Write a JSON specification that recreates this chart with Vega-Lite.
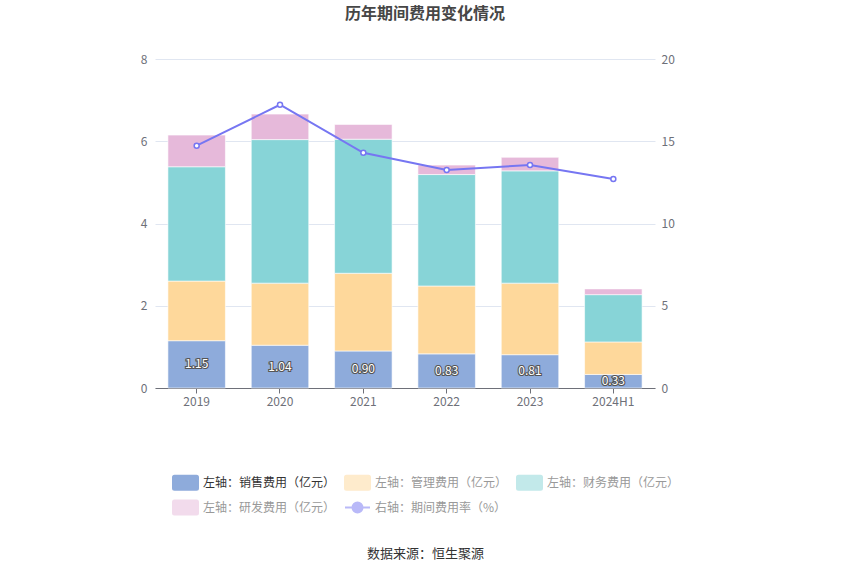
{
  "$schema": "https://vega.github.io/schema/vega-lite/v6.json",
  "width": 500,
  "height": 329,
  "autosize": "none",
  "padding": {"left": 155, "top": 59, "right": 195, "bottom": 187},
  "background": "white",
  "config": {
    "font": "Noto Sans CJK SC",
    "view": {"stroke": null},
    "axis": {
      "labelFont": "Noto Sans CJK SC",
      "titleFont": "Noto Sans CJK SC",
      "labelFontSize": 12,
      "labelColor": "#6e7079"
    },
    "legend": {
      "labelFont": "Noto Sans CJK SC",
      "labelFontSize": 12
    }
  },
  "title": {
    "text": "历年期间费用变化情况",
    "fontSize": 16,
    "fontWeight": "bold",
    "color": "#464646",
    "anchor": "middle",
    "dx": 20,
    "offset": 31
  },
  "datasets": {
    "costs": [
      {"year": "2019", "type": "左轴：销售费用（亿元）", "idx": 1, "value": 1.15},
      {"year": "2019", "type": "左轴：管理费用（亿元）", "idx": 2, "value": 1.45},
      {"year": "2019", "type": "左轴：财务费用（亿元）", "idx": 3, "value": 2.78},
      {"year": "2019", "type": "左轴：研发费用（亿元）", "idx": 4, "value": 0.77},
      {"year": "2020", "type": "左轴：销售费用（亿元）", "idx": 1, "value": 1.04},
      {"year": "2020", "type": "左轴：管理费用（亿元）", "idx": 2, "value": 1.51},
      {"year": "2020", "type": "左轴：财务费用（亿元）", "idx": 3, "value": 3.49},
      {"year": "2020", "type": "左轴：研发费用（亿元）", "idx": 4, "value": 0.62},
      {"year": "2021", "type": "左轴：销售费用（亿元）", "idx": 1, "value": 0.90},
      {"year": "2021", "type": "左轴：管理费用（亿元）", "idx": 2, "value": 1.89},
      {"year": "2021", "type": "左轴：财务费用（亿元）", "idx": 3, "value": 3.26},
      {"year": "2021", "type": "左轴：研发费用（亿元）", "idx": 4, "value": 0.36},
      {"year": "2022", "type": "左轴：销售费用（亿元）", "idx": 1, "value": 0.83},
      {"year": "2022", "type": "左轴：管理费用（亿元）", "idx": 2, "value": 1.65},
      {"year": "2022", "type": "左轴：财务费用（亿元）", "idx": 3, "value": 2.71},
      {"year": "2022", "type": "左轴：研发费用（亿元）", "idx": 4, "value": 0.23},
      {"year": "2023", "type": "左轴：销售费用（亿元）", "idx": 1, "value": 0.81},
      {"year": "2023", "type": "左轴：管理费用（亿元）", "idx": 2, "value": 1.74},
      {"year": "2023", "type": "左轴：财务费用（亿元）", "idx": 3, "value": 2.73},
      {"year": "2023", "type": "左轴：研发费用（亿元）", "idx": 4, "value": 0.33},
      {"year": "2024H1", "type": "左轴：销售费用（亿元）", "idx": 1, "value": 0.33},
      {"year": "2024H1", "type": "左轴：管理费用（亿元）", "idx": 2, "value": 0.79},
      {"year": "2024H1", "type": "左轴：财务费用（亿元）", "idx": 3, "value": 1.15},
      {"year": "2024H1", "type": "左轴：研发费用（亿元）", "idx": 4, "value": 0.14}
    ],
    "rate": [
      {"year": "2019", "type": "右轴：期间费用率（%）", "rate": 14.73},
      {"year": "2020", "type": "右轴：期间费用率（%）", "rate": 17.22},
      {"year": "2021", "type": "右轴：期间费用率（%）", "rate": 14.30},
      {"year": "2022", "type": "右轴：期间费用率（%）", "rate": 13.25},
      {"year": "2023", "type": "右轴：期间费用率（%）", "rate": 13.56},
      {"year": "2024H1", "type": "右轴：期间费用率（%）", "rate": 12.71}
    ]
  },
  "encoding": {
    "x": {
      "field": "year",
      "type": "ordinal",
      "sort": ["2019", "2020", "2021", "2022", "2023", "2024H1"],
      "scale": {"paddingInner": 0.31, "paddingOuter": 0.155},
      "axis": {
        "labelAngle": 0,
        "labelPadding": 3,
        "domainColor": "#6e7079",
        "tickColor": "#6e7079",
        "tickSize": 5,
        "title": "数据来源：恒生聚源",
        "titleFontSize": 13,
        "titleFontWeight": "normal",
        "titleColor": "#333333",
        "titlePadding": 140,
        "titleX": 270,
        "titleAlign": "center"
      }
    }
  },
  "layer": [
    {
      "data": {"name": "costs"},
      "mark": {"type": "bar", "stroke": "#ffffff", "strokeWidth": 0.6},
      "encoding": {
        "y": {
          "field": "value",
          "type": "quantitative",
          "stack": "zero",
          "scale": {"domain": [0, 8], "nice": false},
          "axis": {
            "orient": "left",
            "values": [0, 2, 4, 6, 8],
            "title": null,
            "domain": false,
            "ticks": false,
            "labelPadding": 8,
            "gridColor": "#e0e6f1"
          }
        },
        "order": {"field": "idx", "type": "quantitative"},
        "color": {
          "field": "type",
          "type": "nominal",
          "scale": {
            "domain": ["左轴：销售费用（亿元）", "左轴：管理费用（亿元）", "左轴：财务费用（亿元）", "左轴：研发费用（亿元）", "右轴：期间费用率（%）"],
            "range": ["#8eabdb", "#fed89b", "#87d4d7", "#e6b9da", "#7676f2"]
          },
          "legend": {
            "orient": "none",
            "legendX": 17,
            "legendY": 410,
            "direction": "horizontal",
            "columns": 3,
            "title": null,
            "symbolSize": 625,
            "columnPadding": 5,
            "rowPadding": -8,
            "labelColor": "#999999",
            "encode": {
              "symbols": {
                "update": {
                  "shape": {"signal": "datum.value === '右轴：期间费用率（%）' ? 'M-1,0H-0.4M0.4,0H1M0.4,0A0.4,0.4,0,1,1,-0.4,0A0.4,0.4,0,1,1,0.4,0' : 'M-0.88,-0.56H0.88A0.12,0.12,0,0,1,1,-0.44V0.44A0.12,0.12,0,0,1,0.88,0.56H-0.88A0.12,0.12,0,0,1,-1,0.44V-0.44A0.12,0.12,0,0,1,-0.88,-0.56Z'"},
                  "fill": {"signal": "datum.value === '右轴：期间费用率（%）' ? '#ffffff' : scale('color', datum.value)"},
                  "stroke": {"signal": "datum.value === '右轴：期间费用率（%）' ? '#7676f2' : 'transparent'"},
                  "strokeWidth": {"value": 2},
                  "opacity": {"signal": "datum.value === '左轴：销售费用（亿元）' ? 1 : 0.5"}
                }
              },
              "labels": {
                "update": {
                  "fill": {"signal": "datum.value === '左轴：销售费用（亿元）' ? '#333333' : '#999999'"}
                }
              }
            }
          }
        }
      }
    },
    {
      "data": {"name": "costs"},
      "transform": [{"filter": "datum.idx === 1"}],
      "mark": {"type": "text", "fontSize": 12, "fill": "#555555", "stroke": "#555555", "strokeWidth": 2.2},
      "encoding": {
        "y": {"field": "value", "type": "quantitative", "scale": {"domain": [0, 16], "nice": false}, "axis": null},
        "text": {"field": "value", "type": "quantitative", "format": ".2f"}
      }
    },
    {
      "data": {"name": "costs"},
      "transform": [{"filter": "datum.idx === 1"}],
      "mark": {"type": "text", "fontSize": 12, "fill": "#ffffff"},
      "encoding": {
        "y": {"field": "value", "type": "quantitative", "scale": {"domain": [0, 16], "nice": false}, "axis": null},
        "text": {"field": "value", "type": "quantitative", "format": ".2f"}
      }
    },
    {
      "data": {"name": "rate"},
      "mark": {"type": "line", "strokeWidth": 2},
      "encoding": {
        "y": {
          "field": "rate",
          "type": "quantitative",
          "scale": {"domain": [0, 20], "nice": false},
          "axis": {
            "orient": "right",
            "values": [0, 5, 10, 15, 20],
            "title": null,
            "domain": false,
            "ticks": false,
            "grid": false,
            "labelPadding": 6
          }
        },
        "color": {
          "field": "type",
          "type": "nominal",
          "legend": {
            "orient": "none",
            "legendX": 17,
            "legendY": 410,
            "direction": "horizontal",
            "columns": 3,
            "title": null,
            "symbolSize": 625,
            "columnPadding": 5,
            "rowPadding": -8,
            "labelColor": "#999999",
            "encode": {
              "symbols": {
                "update": {
                  "shape": {"signal": "datum.value === '右轴：期间费用率（%）' ? 'M-1,0H-0.4M0.4,0H1M0.4,0A0.4,0.4,0,1,1,-0.4,0A0.4,0.4,0,1,1,0.4,0' : 'M-0.88,-0.56H0.88A0.12,0.12,0,0,1,1,-0.44V0.44A0.12,0.12,0,0,1,0.88,0.56H-0.88A0.12,0.12,0,0,1,-1,0.44V-0.44A0.12,0.12,0,0,1,-0.88,-0.56Z'"},
                  "fill": {"signal": "datum.value === '右轴：期间费用率（%）' ? '#ffffff' : scale('color', datum.value)"},
                  "stroke": {"signal": "datum.value === '右轴：期间费用率（%）' ? '#7676f2' : 'transparent'"},
                  "strokeWidth": {"value": 2},
                  "opacity": {"signal": "datum.value === '左轴：销售费用（亿元）' ? 1 : 0.5"}
                }
              },
              "labels": {
                "update": {
                  "fill": {"signal": "datum.value === '左轴：销售费用（亿元）' ? '#333333' : '#999999'"}
                }
              }
            }
          }
        }
      }
    },
    {
      "data": {"name": "rate"},
      "mark": {"type": "point", "filled": true, "fill": "#ffffff", "stroke": "#7676f2", "strokeWidth": 1.5, "size": 25, "opacity": 1},
      "encoding": {
        "y": {"field": "rate", "type": "quantitative", "scale": {"domain": [0, 20], "nice": false}, "axis": null}
      }
    }
  ],
  "resolve": {"scale": {"y": "independent"}}
}
